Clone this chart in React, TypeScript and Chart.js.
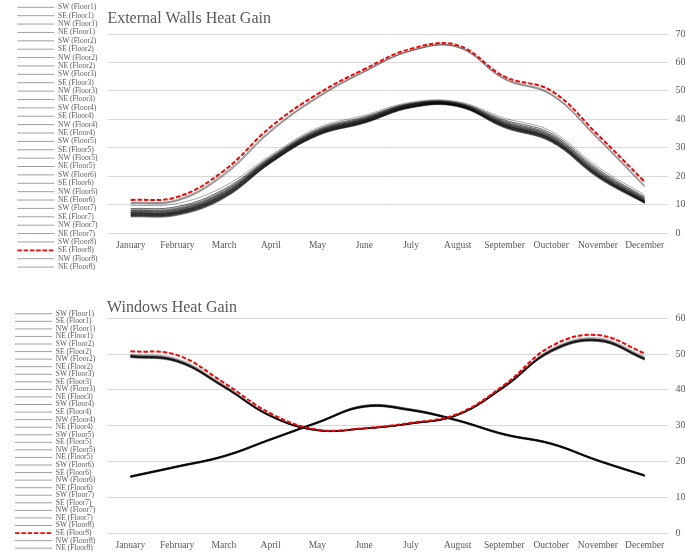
import React, { useEffect, useRef } from 'react';
import { Chart, registerables } from 'chart.js';

Chart.register(...registerables);

// ---------- data ----------
const months = ['January', 'February', 'March', 'April', 'May', 'June', 'July', 'August', 'September', 'Ouctober', 'November', 'December'];
const orientations = ['SW', 'SE', 'NW', 'NE'];
const floors = ['Floor1', 'Floor2', 'Floor3', 'Floor4', 'Floor5', 'Floor6', 'Floor7', 'Floor8'];
const highlighted = 'SE (Floor8)';

const wallTicks = [0, 10, 20, 30, 40, 50, 60, 70];
const windowTicks = [0, 10, 20, 30, 40, 50, 60];

// External walls heat gain, per floor: [SW, SE, NW, NE]
const wallsF1 = [
  [6.2, 6.8, 12.8, 25.0, 34.6, 39.0, 44.4, 44.8, 37.6, 32.6, 20.0, 10.8],
  [6.6, 7.2, 13.4, 25.6, 35.2, 39.6, 44.8, 45.0, 38.0, 33.0, 20.4, 11.0],
  [5.6, 6.2, 12.2, 24.6, 34.2, 38.6, 44.0, 44.4, 37.0, 32.0, 19.4, 10.4],
  [5.9, 6.5, 12.5, 24.8, 34.4, 38.8, 44.2, 44.6, 37.2, 32.2, 19.7, 10.6],
];
const wallsF2 = [
  [6.4, 7.0, 13.0, 25.2, 34.8, 39.2, 44.6, 44.9, 37.8, 32.8, 20.2, 10.9],
  [6.9, 7.5, 13.7, 25.8, 35.4, 39.8, 45.0, 45.2, 38.3, 33.3, 20.7, 11.2],
  [5.8, 6.4, 12.4, 24.7, 34.3, 38.7, 44.1, 44.5, 37.1, 32.1, 19.6, 10.5],
  [6.1, 6.7, 12.7, 24.9, 34.5, 38.9, 44.3, 44.7, 37.4, 32.4, 19.9, 10.7],
];
const wallsF3 = [
  [6.7, 7.3, 13.3, 25.4, 35.0, 39.4, 44.7, 45.0, 38.0, 33.0, 20.5, 11.1],
  [7.2, 7.8, 14.0, 26.0, 35.6, 40.0, 45.2, 45.4, 38.6, 33.6, 21.0, 11.5],
  [6.0, 6.6, 12.6, 24.8, 34.4, 38.8, 44.2, 44.6, 37.3, 32.3, 19.8, 10.6],
  [6.3, 6.9, 12.9, 25.1, 34.7, 39.1, 44.4, 44.8, 37.6, 32.6, 20.1, 10.8],
];
const wallsF4 = [
  [7.0, 7.6, 13.6, 25.6, 35.2, 39.6, 44.9, 45.1, 38.3, 33.3, 20.8, 11.4],
  [7.6, 8.2, 14.4, 26.2, 35.8, 40.2, 45.3, 45.5, 38.9, 34.0, 21.4, 11.8],
  [6.3, 6.9, 12.9, 25.0, 34.6, 39.0, 44.3, 44.7, 37.5, 32.5, 20.0, 10.8],
  [6.6, 7.2, 13.2, 25.3, 34.9, 39.3, 44.5, 44.9, 37.8, 32.8, 20.3, 11.0],
];
const wallsF5 = [
  [7.4, 8.0, 14.0, 25.9, 35.5, 39.9, 45.1, 45.3, 38.6, 33.7, 21.2, 11.7],
  [8.0, 8.7, 14.9, 26.5, 36.1, 40.5, 45.5, 45.7, 39.3, 34.5, 21.9, 12.2],
  [6.7, 7.3, 13.3, 25.2, 34.8, 39.2, 44.5, 44.8, 37.7, 32.8, 20.3, 11.0],
  [7.0, 7.6, 13.6, 25.5, 35.1, 39.5, 44.7, 45.0, 38.0, 33.1, 20.6, 11.3],
];
const wallsF6 = [
  [7.9, 8.5, 14.6, 26.3, 35.9, 40.3, 45.3, 45.5, 39.0, 34.2, 21.7, 12.1],
  [8.6, 9.3, 15.5, 26.9, 36.5, 40.9, 45.7, 45.9, 39.8, 35.1, 22.5, 12.7],
  [7.1, 7.7, 13.8, 25.6, 35.1, 39.5, 44.7, 45.0, 38.1, 33.2, 20.8, 11.4],
  [7.5, 8.1, 14.2, 25.9, 35.4, 39.8, 44.9, 45.2, 38.4, 33.6, 21.1, 11.7],
];
const wallsF7 = [
  [8.6, 9.3, 15.4, 26.8, 36.4, 40.8, 45.6, 45.8, 39.7, 35.0, 22.4, 12.7],
  [9.6, 10.4, 16.4, 27.4, 37.0, 41.4, 46.0, 46.2, 40.4, 35.8, 23.2, 13.4],
  [7.8, 8.4, 14.5, 26.1, 35.7, 40.1, 45.1, 45.3, 38.8, 34.0, 21.5, 12.0],
  [8.2, 8.9, 15.0, 26.5, 36.1, 40.5, 45.4, 45.6, 39.3, 34.5, 22.0, 12.4],
];
const wallsF8 = [
  [10.8, 11.8, 21.0, 36.2, 48.0, 57.0, 64.3, 65.6, 54.5, 49.0, 33.5, 16.8],
  [11.6, 12.7, 22.0, 37.4, 48.9, 57.6, 64.8, 66.0, 55.0, 50.0, 34.5, 18.0],
  [10.3, 11.3, 20.3, 35.6, 47.5, 56.6, 64.0, 65.3, 54.0, 48.5, 33.0, 16.2],
  [10.5, 11.5, 20.6, 35.9, 47.7, 56.8, 64.1, 65.4, 54.2, 48.7, 33.2, 16.4],
];

// Windows heat gain, per floor: [SW, SE, NW, NE]
const windowsF1 = [
  [49.0, 47.7, 40.6, 32.5, 28.6, 29.1, 30.5, 32.9, 40.6, 50.5, 53.5, 48.3],
  [49.3, 48.0, 40.8, 32.6, 28.7, 29.2, 30.6, 33.0, 40.8, 50.8, 53.8, 48.6],
  [15.5, 18.3, 21.2, 25.9, 30.6, 35.1, 34.1, 31.2, 27.3, 24.7, 20.0, 15.8],
  [15.7, 18.5, 21.4, 26.1, 30.8, 35.3, 34.3, 31.4, 27.5, 24.9, 20.2, 16.0],
];
const windowsF2 = [
  [49.1, 47.8, 40.7, 32.5, 28.6, 29.1, 30.5, 32.9, 40.7, 50.6, 53.6, 48.4],
  [49.4, 48.1, 40.9, 32.7, 28.7, 29.2, 30.6, 33.0, 40.9, 50.9, 53.9, 48.7],
  [15.6, 18.4, 21.3, 26.0, 30.7, 35.2, 34.2, 31.3, 27.4, 24.8, 20.1, 15.9],
  [15.8, 18.6, 21.5, 26.2, 30.9, 35.4, 34.4, 31.5, 27.6, 25.0, 20.3, 16.1],
];
const windowsF3 = [
  [49.2, 47.9, 40.7, 32.6, 28.6, 29.1, 30.5, 32.9, 40.7, 50.7, 53.7, 48.5],
  [49.5, 48.2, 41.0, 32.7, 28.7, 29.2, 30.6, 33.0, 41.0, 51.0, 54.0, 48.8],
  [15.6, 18.4, 21.3, 26.0, 30.7, 35.2, 34.2, 31.3, 27.4, 24.8, 20.1, 15.9],
  [15.8, 18.6, 21.5, 26.2, 30.9, 35.4, 34.4, 31.5, 27.6, 25.0, 20.3, 16.1],
];
const windowsF4 = [
  [49.2, 47.9, 40.8, 32.6, 28.6, 29.1, 30.5, 32.9, 40.8, 50.7, 53.7, 48.5],
  [49.5, 48.2, 41.0, 32.8, 28.7, 29.2, 30.6, 33.1, 41.0, 51.0, 54.0, 48.8],
  [15.7, 18.5, 21.4, 26.1, 30.8, 35.3, 34.3, 31.4, 27.5, 24.9, 20.2, 16.0],
  [15.9, 18.7, 21.6, 26.3, 31.0, 35.5, 34.5, 31.6, 27.7, 25.1, 20.4, 16.2],
];
const windowsF5 = [
  [49.3, 48.0, 40.8, 32.6, 28.6, 29.1, 30.5, 32.9, 40.8, 50.8, 53.8, 48.6],
  [49.6, 48.3, 41.1, 32.8, 28.8, 29.3, 30.7, 33.1, 41.1, 51.1, 54.1, 48.9],
  [15.7, 18.5, 21.4, 26.1, 30.8, 35.3, 34.3, 31.4, 27.5, 24.9, 20.2, 16.0],
  [15.9, 18.7, 21.6, 26.3, 31.0, 35.5, 34.5, 31.6, 27.7, 25.1, 20.4, 16.2],
];
const windowsF6 = [
  [49.3, 48.0, 40.9, 32.7, 28.7, 29.2, 30.6, 33.0, 40.8, 50.8, 53.8, 48.6],
  [49.6, 48.3, 41.1, 32.8, 28.8, 29.3, 30.7, 33.1, 41.1, 51.1, 54.1, 48.9],
  [15.6, 18.4, 21.3, 26.0, 30.7, 35.2, 34.2, 31.3, 27.4, 24.8, 20.1, 15.9],
  [15.8, 18.6, 21.5, 26.2, 30.9, 35.4, 34.4, 31.5, 27.6, 25.0, 20.3, 16.1],
];
const windowsF7 = [
  [49.4, 48.1, 40.9, 32.7, 28.7, 29.2, 30.6, 33.0, 40.9, 50.9, 53.9, 48.7],
  [49.7, 48.4, 41.2, 32.9, 28.8, 29.3, 30.7, 33.2, 41.2, 51.2, 54.2, 49.0],
  [15.7, 18.5, 21.4, 26.1, 30.8, 35.3, 34.3, 31.4, 27.5, 24.9, 20.2, 16.0],
  [15.9, 18.7, 21.6, 26.3, 31.0, 35.6, 34.6, 31.6, 27.7, 25.1, 20.4, 16.2],
];
const windowsF8 = [
  [49.9, 48.7, 41.4, 33.0, 28.8, 29.3, 30.7, 33.2, 41.2, 51.4, 54.5, 49.3],
  [50.8, 49.7, 42.0, 33.4, 28.9, 29.3, 30.8, 33.3, 41.4, 52.2, 55.3, 50.2],
  [15.9, 18.7, 21.6, 26.3, 31.0, 35.6, 34.6, 31.6, 27.7, 25.1, 20.4, 16.2],
  [16.0, 18.8, 21.7, 26.4, 31.1, 35.7, 34.7, 31.7, 27.8, 25.2, 20.5, 16.3],
];

const wallsByFloor = [wallsF1, wallsF2, wallsF3, wallsF4, wallsF5, wallsF6, wallsF7, wallsF8];
const windowsByFloor = [windowsF1, windowsF2, windowsF3, windowsF4, windowsF5, windowsF6, windowsF7, windowsF8];

// ---------- styling ----------
const FONT = '"Liberation Serif", "Times New Roman", Times, serif';
const TEXT = '#595959';
const GRID = '#d9d9d9';
const LINE = 'rgba(0,0,0,0.36)';
const LEGEND_LINE = '#a0a0a0';
const RED = '#ff0000';
const W = 685;

type Panel = {
  title: string;
  byFloor: number[][][];
  ticks: number[];
  height: number;
  padLeft: number;
  padTop: number;
  padBottom: number;
  titleTop: number;
  titleBottom: number;
  legendPad: number;
  legendAlign: 'start' | 'end';
  xHeight: number;
};

function buildDatasets(byFloor: number[][][]) {
  const out: any[] = [];
  floors.forEach((f, fi) => {
    orientations.forEach((o, oi) => {
      const label = `${o} (${f})`;
      const red = label === highlighted;
      out.push({
        label,
        data: byFloor[fi][oi],
        yAxisID: 'y',
        borderColor: red ? RED : LINE,
        borderWidth: red ? 2 : 1,
        borderDash: red ? [4.5, 2] : [],
        pointRadius: 0,
        pointHoverRadius: 0,
        tension: 0.4,
        fill: false,
        order: red ? -1 : 0,
      });
    });
  });
  return out;
}

function makeChart(canvas: HTMLCanvasElement, p: Panel) {
  const datasets = buildDatasets(p.byFloor);
  return new Chart(canvas, {
    type: 'line',
    data: { labels: months, datasets },
    options: {
      responsive: false,
      animation: false,
      events: [],
      layout: { padding: { left: p.padLeft, top: p.padTop, right: 0, bottom: p.padBottom } },
      plugins: {
        title: {
          display: true,
          text: p.title,
          align: 'start',
          fullSize: false,
          color: TEXT,
          font: { family: FONT, size: 16, weight: 'normal', lineHeight: 1.2 },
          padding: { top: p.titleTop, bottom: p.titleBottom },
        },
        legend: {
          display: true,
          position: 'left',
          align: p.legendAlign,
          labels: {
            usePointStyle: true,
            pointStyle: 'line',
            pointStyleWidth: 37,
            padding: p.legendPad,
            color: TEXT,
            font: { family: FONT, size: 7.5 },
            generateLabels: (chart: any) =>
              chart.data.datasets.map((ds: any, i: number) => {
                const red = ds.label === highlighted;
                return {
                  text: ds.label,
                  fillStyle: 'rgba(0,0,0,0)',
                  strokeStyle: red ? RED : LEGEND_LINE,
                  lineWidth: red ? 1.8 : 1,
                  lineDash: red ? [4.5, 1.8] : [],
                  pointStyle: 'line',
                  hidden: false,
                  datasetIndex: i,
                  fontColor: TEXT,
                };
              }),
          },
        },
        tooltip: { enabled: false },
      },
      scales: {
        x: {
          offset: true,
          grid: { display: false, drawTicks: false },
          border: { display: false },
          ticks: { autoSkip: false, maxRotation: 0, padding: 6.8, color: TEXT, font: { family: FONT, size: 9.5 } },
          afterFit: (s: any) => { s.height = p.xHeight; },
        },
        y: {
          type: 'linear',
          position: 'right',
          min: p.ticks[0],
          max: p.ticks[p.ticks.length - 1],
          afterBuildTicks: (s: any) => { s.ticks = p.ticks.map((v) => ({ value: v })); },
          ticks: { padding: 7.5, color: TEXT, font: { family: FONT, size: 10 } },
          grid: { color: GRID, lineWidth: 1, drawTicks: false },
          border: { display: false },
          afterFit: (s: any) => { s.width = 17; },
        },
        sp: {
          type: 'linear',
          position: 'left',
          display: true,
          grid: { display: false, drawTicks: false },
          ticks: { display: false },
          border: { display: false },
          afterFit: (s: any) => {
            const lw = s.chart.legend ? s.chart.legend.width : 0;
            s.width = Math.max(0, 107 - p.padLeft - lw);
          },
        },
      },
    } as any,
  });
}

const wallsPanel: Panel = {
  title: 'External Walls Heat Gain',
  byFloor: wallsByFloor,
  ticks: wallTicks,
  height: 284,
  padLeft: 16.4,
  padTop: 2.67,
  padBottom: 0,
  titleTop: 6.13,
  titleBottom: 6.0,
  legendPad: 0.88,
  legendAlign: 'start',
  xHeight: 51,
};

const windowsPanel: Panel = {
  title: 'Windows Heat Gain',
  byFloor: windowsByFloor,
  ticks: windowTicks,
  height: 274,
  padLeft: 15,
  padTop: 0,
  padBottom: 6,
  titleTop: 13.8,
  titleBottom: 1.3,
  legendPad: 0.0625,
  legendAlign: 'end',
  xHeight: 19,
};

function ChartPanel({ panel }: { panel: Panel }) {
  const ref = useRef<HTMLCanvasElement | null>(null);
  useEffect(() => {
    if (!ref.current) return;
    const chart = makeChart(ref.current, panel);
    return () => chart.destroy();
  }, [panel]);
  return <canvas ref={ref} width={W} height={panel.height} style={{ display: 'block', width: W, height: panel.height }} />;
}

export default function App() {
  return (
    <div style={{ position: 'absolute', left: 0, top: 0, width: W, height: 558, background: '#fff', overflow: 'hidden' }}>
      <ChartPanel panel={wallsPanel} />
      <ChartPanel panel={windowsPanel} />
    </div>
  );
}
